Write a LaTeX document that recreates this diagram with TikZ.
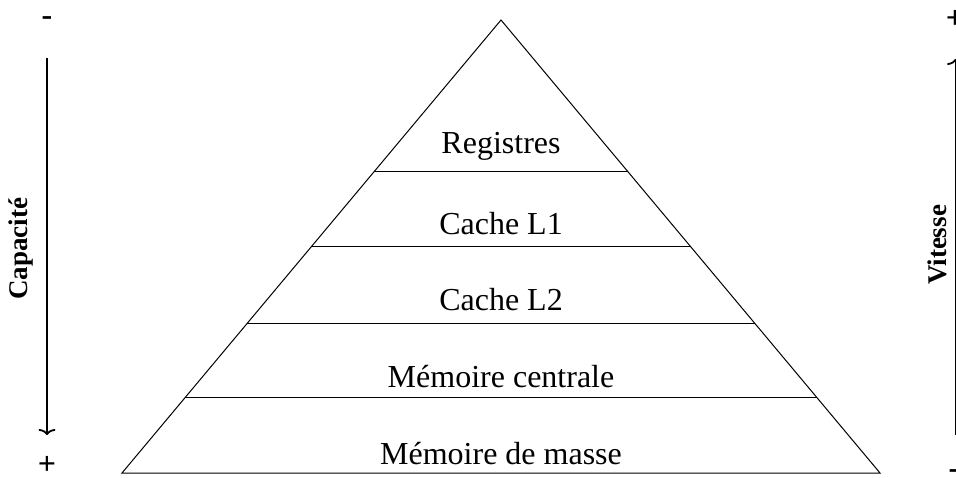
\documentclass[tikz,border=0pt]{standalone}
\usepackage{fontspec}
\setmainfont{Liberation Serif}
\usetikzlibrary{calc,arrows.meta}
\begin{document}
\begin{tikzpicture}[x=1pt,y=-1pt,
  level/.style={font=\fontsize{32}{36}\selectfont, anchor=base, inner sep=0pt},
  sidelabel/.style={font=\fontsize{27}{30}\selectfont\bfseries, inner sep=0pt},
  sign/.style={font=\fontsize{32}{36}\selectfont\bfseries, inner sep=0pt, anchor=base},
  pyr/.style={line width=1pt},
  scalearrow/.style={line width=1.8pt, -{To[width=17pt,length=6pt]}}]
\useasboundingbox (0,0) rectangle (956,478);
% pyramid
\coordinate (A) at (501,20);
\coordinate (BL) at (122,473);
\coordinate (BR) at (880,473);
\draw[pyr] (BL) -- (A) -- (BR) -- cycle;
\coordinate (L1) at ($(A)!0.3355!(BL)$);
\coordinate (R1) at ($(A)!0.3355!(BR)$);
\coordinate (L2) at ($(A)!0.5011!(BL)$);
\coordinate (R2) at ($(A)!0.5011!(BR)$);
\coordinate (L3) at ($(A)!0.6689!(BL)$);
\coordinate (R3) at ($(A)!0.6689!(BR)$);
\coordinate (L4) at ($(A)!0.8344!(BL)$);
\coordinate (R4) at ($(A)!0.8344!(BR)$);
\draw[pyr] (L1) -- (R1);
\draw[pyr] (L2) -- (R2);
\draw[pyr] (L3) -- (R3);
\draw[pyr] (L4) -- (R4);
% level labels
\node[level] (reg) at (501,154) {Registres};
\node[level] (l1) at (501,235) {Cache L1};
\node[level] (l2) at (501,311) {Cache L2};
\node[level] (mc) at (501,387) {Mémoire centrale};
\node[level] (mm) at (501,464) {Mémoire de masse};
% left scale
\node[sign] (lminus) at (47,26) {-};
\node[sign] (lplus) at (47,474) {+};
\coordinate (ltop) at (47,58);
\coordinate (lbot) at (47,435);
\draw[scalearrow] (ltop) -- (lbot);
\node[sidelabel, rotate=90] (cap) at (21,249) {Capacité};
% right scale
\node[sign] (rplus) at (955,29) {+};
\node[sign] (rminus) at (954,478) {-};
\coordinate (rtop) at (955.5,59);
\coordinate (rbot) at (955.5,435);
\draw[scalearrow] (rbot) -- (rtop);
\node[sidelabel, rotate=90] (vit) at (937,245) {Vitesse};
\end{tikzpicture}
\end{document}
